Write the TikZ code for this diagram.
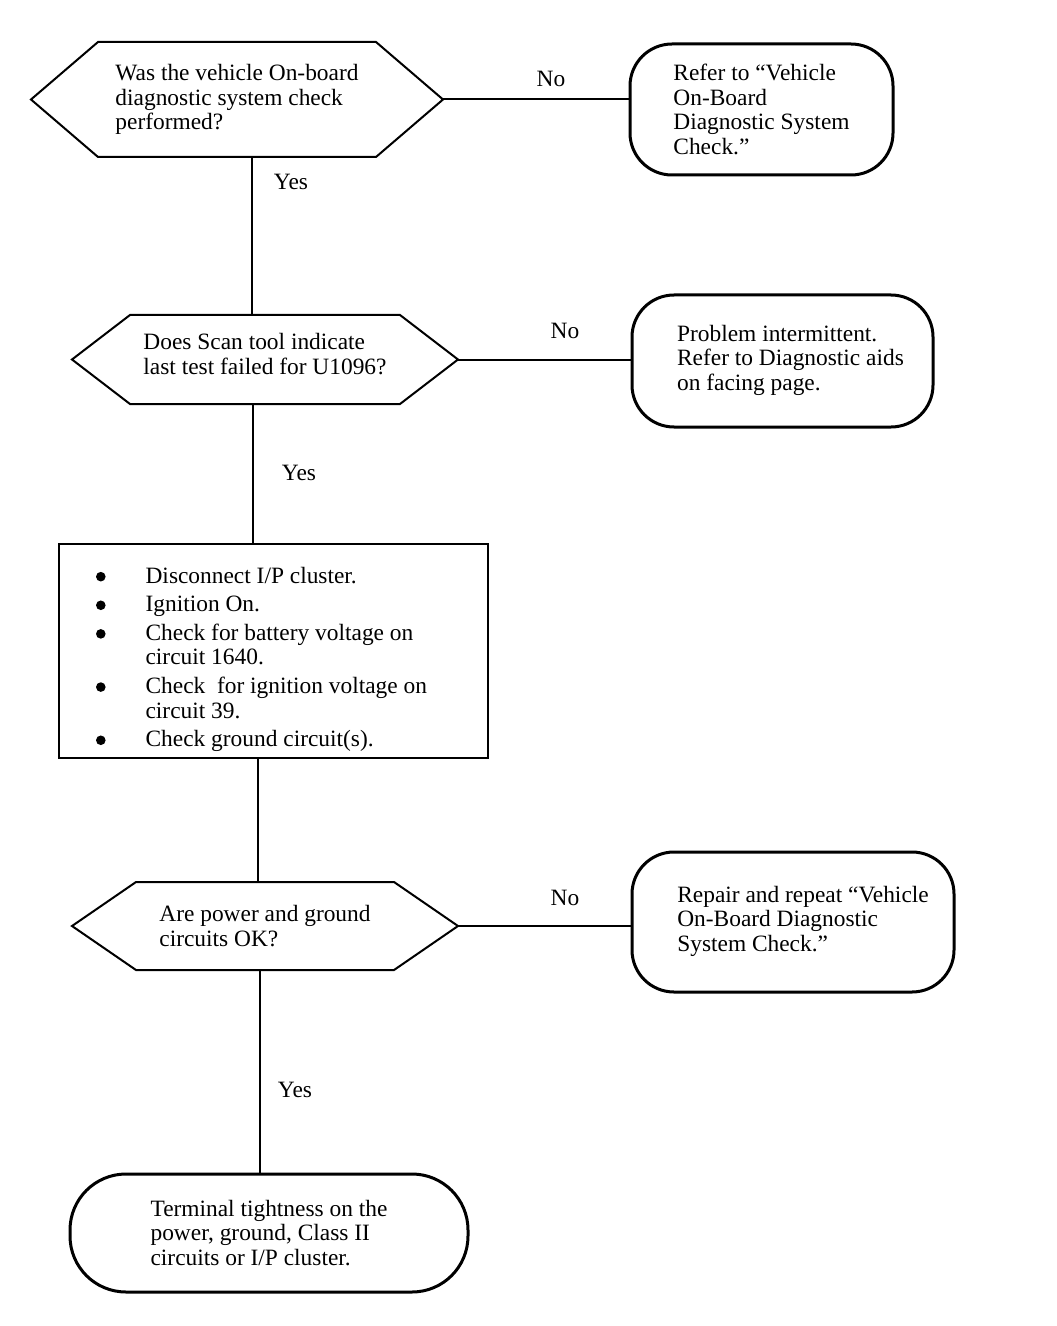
\documentclass[tikz,border=0pt]{standalone}
\usepackage{fontspec}
\setmainfont{Liberation Serif}
\usetikzlibrary{positioning,calc}
\tikzset{every node/.style={font=\fontsize{11.7}{12.3}\selectfont}}
\newcommand{\hexagon}[2]{%
  \draw (#1.west) -- ([xshift=#2]#1.north west) -- ([xshift=-#2]#1.north east)
    -- (#1.east) -- ([xshift=-#2]#1.south east) -- ([xshift=#2]#1.south west) -- cycle;}
\newcommand{\bulletdot}{\tikz[baseline=-0.6ex]\fill (0pt,0pt) circle (2.4pt);}

\begin{document}
\begin{tikzpicture}[x=0.5pt, y=-0.5pt, line width=1pt,
    question/.style={inner sep=0pt, align=left},
    answer/.style={draw, line width=1.5pt, rounded corners=21pt, inner sep=0pt, align=left},
    action/.style={draw, line width=0.8pt, inner sep=0pt},
    lbl/.style={inner sep=0pt}]
  \useasboundingbox (0,0) rectangle (1056,1326);

  % questions
  \node[question, minimum width=205pt, minimum height=56.5pt] (q1) at (237,99.5)
    {Was the vehicle On-board\\diagnostic system check\\performed?};
  \hexagon{q1}{33.5pt}
  \node[question, minimum width=192pt, minimum height=43.5pt] (q2) at (265,359.5)
    {\begin{tabular}{@{}l@{}}Does Scan tool indicate\\last test failed for U1096?\\[2.5pt]\end{tabular}};
  \hexagon{q2}{29pt}
  \node[question, minimum width=192pt, minimum height=43pt] (q3) at (265,926)
    {Are power and ground\\circuits OK?};
  \hexagon{q3}{32pt}

  % results
  \node[answer, minimum width=131.5pt, minimum height=65.5pt] (r1) at (761.5,109.5)
    {Refer to “Vehicle\\On-Board\\Diagnostic System\\Check.”};
  \node[answer, minimum width=150.5pt, minimum height=66pt] (r2) at (782.5,361)
    {\begin{tabular}{@{\hspace{8pt}}l@{}}Problem intermittent.\\Refer to Diagnostic aids\\on facing page.\end{tabular}};
  \node[answer, minimum width=161pt, minimum height=70pt] (r3) at (793,922)
    {\begin{tabular}{@{\hspace{10pt}}l@{}}Repair and repeat “Vehicle\\On-Board Diagnostic\\System Check.”\end{tabular}};
  \node[answer, rounded corners=28pt, minimum width=199pt, minimum height=59pt] (fin) at (269,1233)
    {Terminal tightness on the\\power, ground, Class II\\circuits or I/P cluster.};

  % checks
  \node[action, minimum width=214.5pt, minimum height=107pt] (checks) at (273.5,651)
    {\begin{tabular}{@{}c@{\hspace{20pt}}l@{\hspace{12pt}}}
      \noalign{\vskip 9pt}
      \bulletdot & Disconnect I/P cluster.\\[2pt]
      \bulletdot & Ignition On.\\[2pt]
      \bulletdot & Check for battery voltage on\\
                 & circuit 1640.\\[2pt]
      \bulletdot & Check~ for ignition voltage on\\
                 & circuit 39.\\[2pt]
      \bulletdot & Check ground circuit(s).
    \end{tabular}};

  % connectors
  \coordinate (l1) at (252,0);
  \coordinate (l2) at (253,0);
  \coordinate (l3) at (258,0);
  \coordinate (l4) at (260,0);
  \draw (q1.south -| l1) -- (q2.north -| l1);
  \draw (q2.south -| l2) -- (checks.north -| l2);
  \draw (checks.south -| l3) -- (q3.north -| l3);
  \draw (q3.south -| l4) -- (fin.north -| l4);
  \draw (q1.east) -- (q1.east -| r1.west);
  \draw (q2.east) -- (q2.east -| r2.west);
  \draw (q3.east) -- (q3.east -| r3.west);

  % labels
  \node[lbl] (no1) at (551,79) {No};
  \node[lbl] (no2) at (565,331) {No};
  \node[lbl] (no3) at (565,898) {No};
  \node[lbl] (yes1) at (291,182) {Yes};
  \node[lbl] (yes2) at (299,473) {Yes};
  \node[lbl] (yes3) at (295,1090) {Yes};
\end{tikzpicture}
\end{document}
